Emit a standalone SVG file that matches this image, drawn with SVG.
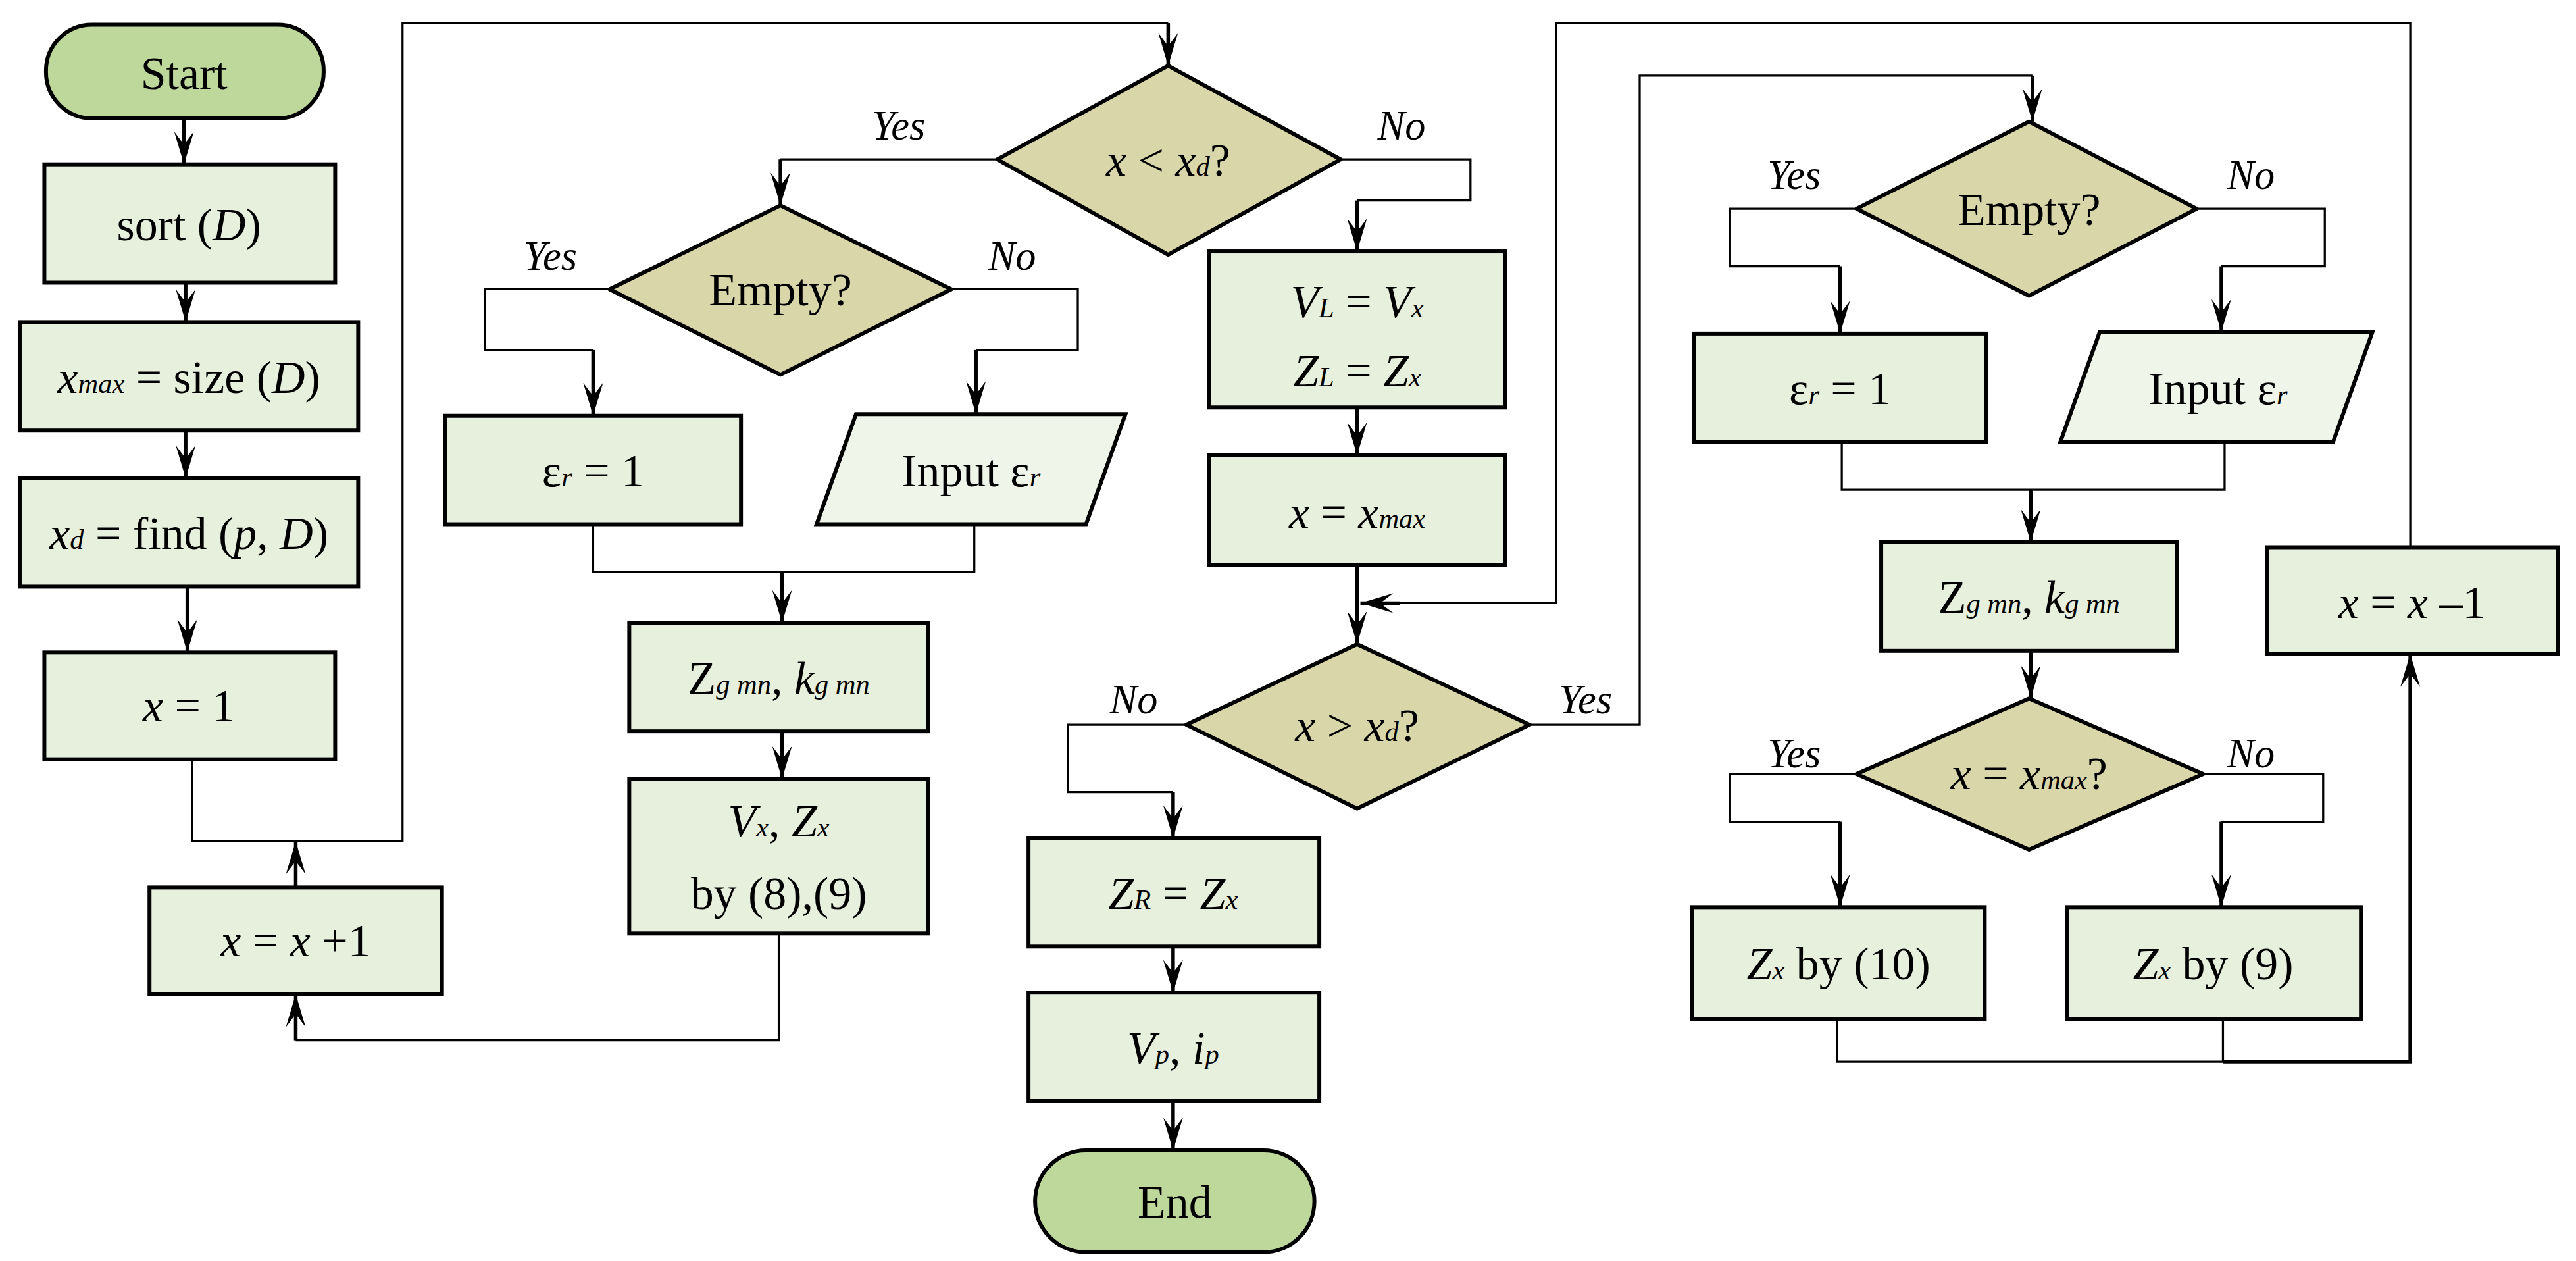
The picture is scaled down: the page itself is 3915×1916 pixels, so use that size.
<svg xmlns="http://www.w3.org/2000/svg" width="3915" height="1916" viewBox="0 0 3915 1916">
<style>
.term{fill:#bdd89a;stroke:#000;stroke-width:2.4}
.box{fill:#e7f0dc;stroke:#000;stroke-width:2.4}
.dia{fill:#d9d6aa;stroke:#000;stroke-width:2.4;stroke-linejoin:round}
.io{fill:#f0f5ea;stroke:#000;stroke-width:2.4}
.ln{fill:none;stroke:#000;stroke-width:1.3}
.ar{fill:none;stroke:#000;stroke-width:2.2}
text{font-family:"Liberation Serif","DejaVu Serif",serif;font-size:28px;text-anchor:middle;fill:#000}
.lb{font-style:italic;font-size:25px}
.i{font-style:italic}
.s{font-size:17px;font-style:italic}
</style>
<defs>
<marker id="b" markerUnits="userSpaceOnUse" markerWidth="20" markerHeight="12" viewBox="0 0 20 12" refX="20" refY="6" orient="auto">
<path d="M0,0 L20,6 L0,12 L8,6 Z" fill="#000"/>
</marker>
</defs>
<rect width="3915" height="1916" fill="#fff"/>
<g transform="scale(2.497)">
<g id="connectors">
<path class="ar" d="M112,72 V100" marker-end="url(#b)"/>
<path class="ar" d="M113,172 V196" marker-end="url(#b)"/>
<path class="ar" d="M113,262 V291" marker-end="url(#b)"/>
<path class="ar" d="M114,357 V397" marker-end="url(#b)"/>
<path class="ln" d="M117,462 V512 H245 V14 H711"/>
<path class="ar" d="M711,14 V40" marker-end="url(#b)"/>
<path class="ar" d="M180,540 V512" marker-end="url(#b)"/>
<path class="ln" d="M607,97 H475"/>
<path class="ar" d="M475,97 V125" marker-end="url(#b)"/>
<path class="ln" d="M816,97 H895 V122 H826"/>
<path class="ar" d="M826,122 V153" marker-end="url(#b)"/>
<path class="ln" d="M371,176 H295 V213 H361"/>
<path class="ar" d="M361,213 V253" marker-end="url(#b)"/>
<path class="ln" d="M579,176 H656 V213 H594"/>
<path class="ar" d="M594,213 V252" marker-end="url(#b)"/>
<path class="ln" d="M361,319 V348 H593 V319"/>
<path class="ar" d="M476,348 V379" marker-end="url(#b)"/>
<path class="ar" d="M476,445 V474" marker-end="url(#b)"/>
<path class="ln" d="M474,568 V633 H180"/>
<path class="ar" d="M180,633 V605" marker-end="url(#b)"/>
<path class="ar" d="M826,248 V277" marker-end="url(#b)"/>
<path class="ar" d="M826,344 V392" marker-end="url(#b)"/>
<path class="ln" d="M1467,333 V14 H947 V367 H850"/>
<path class="ar" d="M852,367 H828" marker-end="url(#b)"/>
<path class="ln" d="M722,441 H650 V482 H714"/>
<path class="ar" d="M714,482 V510" marker-end="url(#b)"/>
<path class="ln" d="M931,441 H998 V46 H1237"/>
<path class="ar" d="M1237,46 V74" marker-end="url(#b)"/>
<path class="ar" d="M714,576 V604" marker-end="url(#b)"/>
<path class="ar" d="M714,670 V700" marker-end="url(#b)"/>
<path class="ln" d="M1130,127 H1053 V162 H1120"/>
<path class="ar" d="M1120,162 V203" marker-end="url(#b)"/>
<path class="ln" d="M1337,127 H1415 V162 H1352"/>
<path class="ar" d="M1352,162 V202" marker-end="url(#b)"/>
<path class="ln" d="M1121,269 V298 H1354 V269"/>
<path class="ar" d="M1236,298 V330" marker-end="url(#b)"/>
<path class="ar" d="M1236,396 V425" marker-end="url(#b)"/>
<path class="ln" d="M1130,471 H1053 V500 H1120"/>
<path class="ar" d="M1120,500 V552" marker-end="url(#b)"/>
<path class="ln" d="M1341,471 H1414 V500 H1352"/>
<path class="ar" d="M1352,500 V552" marker-end="url(#b)"/>
<path class="ln" d="M1118,620 V646 H1353 V620"/>
<path class="ar" d="M1353,646 H1467 V398" marker-end="url(#b)"/>
<text class="lb" x="547" y="85">Yes</text>
<text class="lb" x="853" y="85">No</text>
<text class="lb" x="335" y="164">Yes</text>
<text class="lb" x="616" y="164">No</text>
<text class="lb" x="690" y="434">No</text>
<text class="lb" x="965" y="434">Yes</text>
<text class="lb" x="1092" y="115">Yes</text>
<text class="lb" x="1370" y="115">No</text>
<text class="lb" x="1092" y="467">Yes</text>
<text class="lb" x="1370" y="467">No</text>
</g>
<g id="start"><rect class="term" x="28" y="15" width="169" height="57" rx="28"/><text x="112" y="54">Start</text></g>
<g id="sort"><rect class="box" x="27" y="100" width="177" height="72"/><text x="115" y="146">sort (<tspan class="i">D</tspan>)</text></g>
<g id="xmax"><rect class="box" x="12" y="196" width="206" height="66"/><text x="115" y="239"><tspan class="i">x</tspan><tspan class="s">max</tspan> = size (<tspan class="i">D</tspan>)</text></g>
<g id="xd"><rect class="box" x="12" y="291" width="206" height="66"/><text x="115" y="334"><tspan class="i">x</tspan><tspan class="s">d</tspan> = find (<tspan class="i">p</tspan>, <tspan class="i">D</tspan>)</text></g>
<g id="x1"><rect class="box" x="27" y="397" width="177" height="65"/><text x="115" y="439"><tspan class="i">x</tspan> = 1</text></g>
<g id="xplus"><rect class="box" x="91" y="540" width="178" height="65"/><text x="180" y="582"><tspan class="i">x</tspan> = <tspan class="i">x</tspan> +1</text></g>
<g id="dec1"><polygon class="dia" points="711,40 816,97 711,155 607,97"/><text x="711" y="107"><tspan class="i">x</tspan> &lt; <tspan class="i">x</tspan><tspan class="s">d</tspan>?</text></g>
<g id="empty1"><polygon class="dia" points="475,125 579,176 475,228 371,176"/><text x="475" y="186">Empty?</text></g>
<g id="er1"><rect class="box" x="271" y="253" width="180" height="66"/><text x="361" y="296">ε<tspan class="s">r</tspan> = 1</text></g>
<g id="in1"><polygon class="io" points="521,252 685,252 661,319 497,319"/><text x="591" y="296">Input ε<tspan class="s">r</tspan></text></g>
<g id="zg1"><rect class="box" x="383" y="379" width="182" height="66"/><text x="474" y="422">Z<tspan class="s">g mn</tspan>, <tspan class="i">k</tspan><tspan class="s">g mn</tspan></text></g>
<g id="vx"><rect class="box" x="383" y="474" width="182" height="94"/><text x="474" y="509"><tspan class="i">V</tspan><tspan class="s">x</tspan>, <tspan class="i">Z</tspan><tspan class="s">x</tspan></text><text x="474" y="553">by (8),(9)</text></g>
<g id="vl"><rect class="box" x="736" y="153" width="180" height="95"/><text x="826" y="193"><tspan class="i">V</tspan><tspan class="s">L</tspan> = <tspan class="i">V</tspan><tspan class="s">x</tspan></text><text x="826" y="235"><tspan class="i">Z</tspan><tspan class="s">L</tspan> = <tspan class="i">Z</tspan><tspan class="s">x</tspan></text></g>
<g id="xeqmax"><rect class="box" x="736" y="277" width="180" height="67"/><text x="826" y="321"><tspan class="i">x</tspan> = <tspan class="i">x</tspan><tspan class="s">max</tspan></text></g>
<g id="dec2"><polygon class="dia" points="826,392 931,441 826,492 722,441"/><text x="826" y="451"><tspan class="i">x</tspan> &gt; <tspan class="i">x</tspan><tspan class="s">d</tspan>?</text></g>
<g id="zr"><rect class="box" x="626" y="510" width="177" height="66"/><text x="714" y="553"><tspan class="i">Z</tspan><tspan class="s">R</tspan> = <tspan class="i">Z</tspan><tspan class="s">x</tspan></text></g>
<g id="vp"><rect class="box" x="626" y="604" width="177" height="66"/><text x="714" y="647"><tspan class="i">V</tspan><tspan class="s">p</tspan>, <tspan class="i">i</tspan><tspan class="s">p</tspan></text></g>
<g id="end"><rect class="term" x="630" y="700" width="170" height="62" rx="31"/><text x="715" y="741">End</text></g>
<g id="empty2"><polygon class="dia" points="1235,74 1337,127 1235,180 1130,127"/><text x="1235" y="137">Empty?</text></g>
<g id="er2"><rect class="box" x="1031" y="203" width="178" height="66"/><text x="1120" y="246">ε<tspan class="s">r</tspan> = 1</text></g>
<g id="in2"><polygon class="io" points="1278,202 1444,202 1420,269 1254,269"/><text x="1350" y="246">Input ε<tspan class="s">r</tspan></text></g>
<g id="zg2"><rect class="box" x="1145" y="330" width="180" height="66"/><text x="1235" y="373">Z<tspan class="s">g mn</tspan>, <tspan class="i">k</tspan><tspan class="s">g mn</tspan></text></g>
<g id="dec3"><polygon class="dia" points="1235,425 1341,471 1235,517 1130,471"/><text x="1235" y="480"><tspan class="i">x</tspan> = <tspan class="i">x</tspan><tspan class="s">max</tspan>?</text></g>
<g id="z10"><rect class="box" x="1030" y="552" width="178" height="68"/><text x="1119" y="596"><tspan class="i">Z</tspan><tspan class="s">x</tspan> by (10)</text></g>
<g id="z9"><rect class="box" x="1258" y="552" width="179" height="68"/><text x="1347" y="596"><tspan class="i">Z</tspan><tspan class="s">x</tspan> by (9)</text></g>
<g id="xminus"><rect class="box" x="1380" y="333" width="177" height="65"/><text x="1468" y="376"><tspan class="i">x</tspan> = <tspan class="i">x</tspan> –1</text></g>
</g>
</svg>
